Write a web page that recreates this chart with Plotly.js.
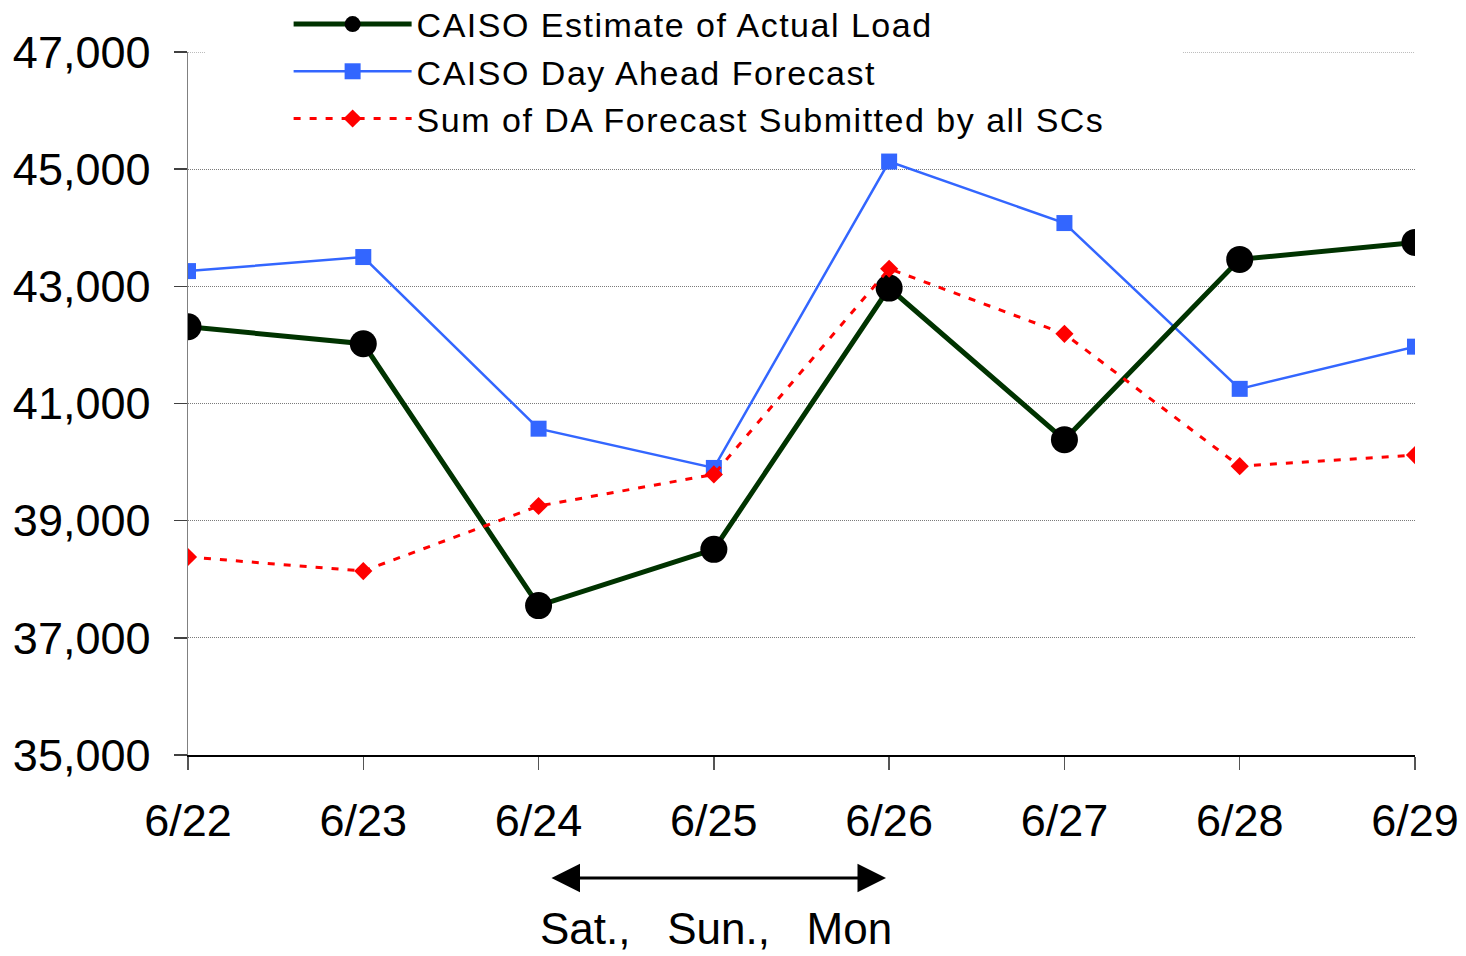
<!DOCTYPE html>
<html>
<head>
<meta charset="utf-8">
<script src="https://cdn.plot.ly/plotly-3.0.1.min.js"></script>
<style>
  html, body { margin: 0; padding: 0; background: #ffffff; }
  #chart { width: 1466px; height: 956px; }
  #chart .legendtext { letter-spacing: 1.5px; }
  #chart .legend .scrollbox, #chart .legend g { clip-path: none !important; }
</style>
</head>
<body>
<div id="chart"></div>
<script>
const categories = ['6/22', '6/23', '6/24', '6/25', '6/26', '6/27', '6/28', '6/29'];
const actualLoad = [42310, 42020, 37550, 38510, 42970, 40380, 43460, 43750];
const dayAheadForecast = [43260, 43500, 40570, 39900, 45130, 44080, 41250, 41970];
const scForecastSum = [38380, 38140, 39250, 39790, 43300, 42190, 39930, 40120];
const seriesNames = [
  'CAISO Estimate of Actual Load',
  'CAISO Day Ahead Forecast',
  'Sum of DA Forecast Submitted by all SCs'
];
const yTickValues = [35000, 37000, 39000, 41000, 43000, 45000, 47000];
const weekendLabel = 'Sat.,\u00A0\u00A0 Sun.,\u00A0\u00A0 Mon';

const FONT = 'Liberation Sans, Arial, Helvetica, sans-serif';
const GRID_COLOR = '#7a7a7a';

const traces = [
  {
    x: categories, y: dayAheadForecast, name: seriesNames[1], type: 'scatter', mode: 'lines+markers',
    line: { color: '#3366FF', width: 2.5 },
    marker: { symbol: 'square', size: 16, color: '#3366FF' },
    legendrank: 2
  },
  {
    x: categories, y: actualLoad, name: seriesNames[0], type: 'scatter', mode: 'lines+markers',
    line: { color: '#003300', width: 5 },
    marker: { symbol: 'circle', size: 27, color: '#000000' },
    legendrank: 1
  },
  {
    x: categories, y: scForecastSum, name: seriesNames[2], type: 'scatter', mode: 'lines+markers',
    line: { color: '#FF0000', width: 3, dash: '7px,9px' },
    marker: { symbol: 'diamond', size: 14, color: '#FF0000' },
    legendrank: 3
  }
];

const topValue = yTickValues[yTickValues.length - 1];

const layout = {
  width: 1466,
  height: 956,
  margin: { l: 188, r: 51, t: 52, b: 201, pad: 0, autoexpand: false },
  paper_bgcolor: '#ffffff',
  plot_bgcolor: '#ffffff',
  font: { family: FONT, color: '#000000', size: 34 },
  showlegend: true,
  legend: {
    x: 0.082, y: 1.0804, xanchor: 'left', yanchor: 'top',
    bgcolor: 'rgba(0,0,0,0)',
    font: { family: FONT, size: 34, color: '#000000' },
    itemwidth: 118,
    entrywidth: 760,
    entrywidthmode: 'pixels',
    traceorder: 'normal'
  },
  xaxis: {
    type: 'category',
    range: [0, 7],
    showgrid: false,
    zeroline: false,
    showline: true,
    linecolor: '#000000',
    linewidth: 1.5,
    ticks: 'outside',
    ticklen: 13,
    tickwidth: 1.5,
    tickcolor: '#555555',
    tickfont: { family: FONT, size: 45, color: '#000000' },
    ticklabelstandoff: 12,
    automargin: false,
    fixedrange: true
  },
  yaxis: {
    range: [35000, 47000],
    tickvals: yTickValues,
    tickformat: ',d',
    showgrid: true,
    gridcolor: GRID_COLOR,
    gridwidth: 1,
    griddash: '1px,1px',
    zeroline: false,
    showline: true,
    linecolor: '#808080',
    linewidth: 1.5,
    ticks: 'outside',
    ticklen: 13,
    tickwidth: 1.5,
    tickcolor: '#404040',
    tickfont: { family: FONT, size: 45, color: '#000000' },
    ticklabelstandoff: 14,
    automargin: false,
    fixedrange: true
  },
  shapes: [
    {
      type: 'line', xref: 'paper', yref: 'y', layer: 'below',
      x0: 0, x1: 0.0139, y0: topValue, y1: topValue,
      line: { color: GRID_COLOR, width: 1, dash: '1px,1px' }
    },
    {
      type: 'line', xref: 'paper', yref: 'y', layer: 'below',
      x0: 0.8109, x1: 1, y0: topValue, y1: topValue,
      line: { color: GRID_COLOR, width: 1, dash: '1px,1px' }
    }
  ],
  annotations: [
    {
      xref: 'x', yref: 'paper', x: 3.982, y: -0.175,
      axref: 'x', ayref: 'pixel', ax: 2.065, ay: 0,
      text: '', showarrow: true,
      arrowside: 'end+start', arrowhead: 2, startarrowhead: 2,
      arrowsize: 1.9, startarrowsize: 1.9, arrowwidth: 3, arrowcolor: '#000000',
      standoff: 0, startstandoff: 0
    },
    {
      xref: 'x', yref: 'paper', x: 3.01, y: -0.2475,
      xanchor: 'center', yanchor: 'middle',
      text: weekendLabel, showarrow: false,
      font: { family: FONT, size: 44, color: '#000000' }
    }
  ]
};

Plotly.newPlot('chart', traces, layout, { staticPlot: true, displayModeBar: false });
</script>
</body>
</html>
